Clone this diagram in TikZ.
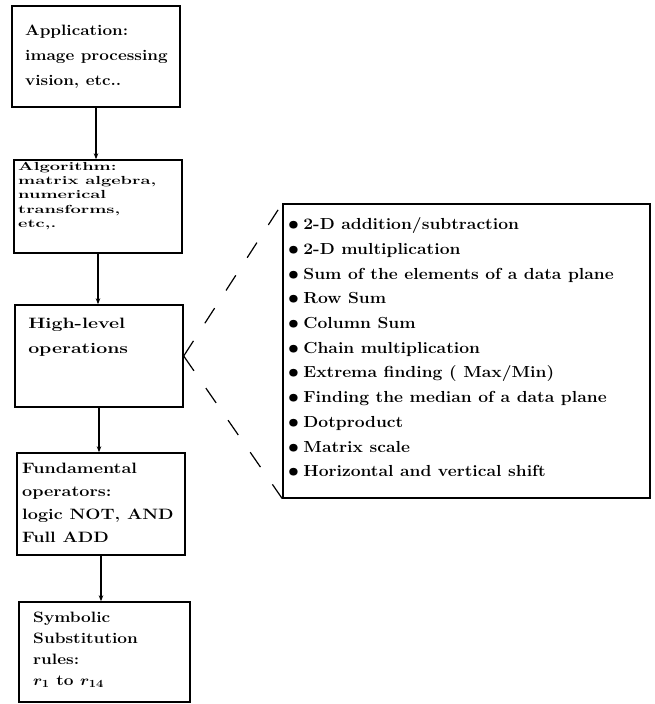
\documentclass[tikz,border=0pt]{standalone}
\usetikzlibrary{arrows.meta}
\begin{document}
\begin{tikzpicture}[x=1pt,y=-1pt,
  box/.style={draw, line width=1.4pt, inner sep=0pt},
  txt/.style={anchor=north west, inner sep=0pt, align=left, transform shape},
  link/.style={line width=1.2pt, -{Stealth[length=6pt,width=4.5pt]}},
  dashlink/.style={line width=1.2pt, dash pattern=on 18pt off 21pt}]
\useasboundingbox (0,0) rectangle (654,704);
% boxes
\node[box, minimum width=168pt, minimum height=101pt] (b1) at (96,56.5) {};
\node[box, minimum width=168pt, minimum height=93pt] (b2) at (98,206.5) {};
\node[box, minimum width=168pt, minimum height=102pt] (b3) at (99,356) {};
\node[box, minimum width=168pt, minimum height=102pt] (b4) at (101,504) {};
\node[box, minimum width=171pt, minimum height=100pt] (b5) at (104.5,652) {};
\node[box, minimum width=367pt, minimum height=294pt] (ops) at (466.5,351) {};
% texts
\node[txt, xscale=1.14, font=\bfseries\fontsize{15}{25}\selectfont] (t1) at (25,24.7)
  {Application:\\image processing\\vision, etc..};
\node[txt, xscale=1.22, yscale=0.78, font=\bfseries\fontsize{15}{18.3}\selectfont] (t2) at (18,162)
  {Algorithm:\\matrix algebra,\\numerical\\transforms,\\etc,.};
\node[txt, xscale=1.3, font=\bfseries\fontsize{15}{25}\selectfont] (t3) at (28,317.7)
  {High-level\\operations};
\node[txt, xscale=1.2, font=\bfseries\fontsize{15}{23}\selectfont] (t4) at (22,462.7)
  {Fundamental\\operators:\\logic NOT, AND\\Full ADD};
\node[txt, xscale=1.15, font=\bfseries\boldmath\fontsize{15}{21}\selectfont] (t5) at (33,611.7)
  {Symbolic\\Substitution\\rules:\\$r_1$ to $r_{14}$};
\node[txt, xscale=1.09, font=\bfseries\boldmath\fontsize{16}{24.7}\selectfont] (list) at (288,217.5)
  {$\bullet$\hspace{4pt}2-D addition/subtraction\\
   $\bullet$\hspace{4pt}2-D multiplication\\
   $\bullet$\hspace{4pt}Sum of the elements of a data plane\\
   $\bullet$\hspace{4pt}Row Sum\\
   $\bullet$\hspace{4pt}Column Sum\\
   $\bullet$\hspace{4pt}Chain multiplication\\
   $\bullet$\hspace{4pt}Extrema finding ( Max/Min)\\
   $\bullet$\hspace{4pt}Finding the median of a data plane\\
   $\bullet$\hspace{4pt}Dotproduct\\
   $\bullet$\hspace{4pt}Matrix scale\\
   $\bullet$\hspace{4pt}Horizontal and vertical shift};
% connectors
\draw[link] (b1.south) -- (b1.south |- b2.north);
\draw[link] (b2.south) -- (b2.south |- b3.north);
\draw[link] (b3.south) -- (b3.south |- b4.north);
\draw[link] (b4.south) -- (b4.south |- b5.north);
\draw[dashlink] (b3.east) -- (ops.north west);
\draw[dashlink] (b3.east) -- (ops.south west);
\end{tikzpicture}
\end{document}
